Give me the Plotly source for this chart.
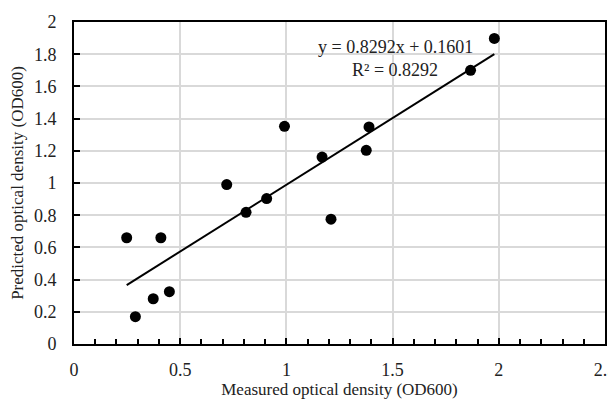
import plotly.graph_objects as go

measured = [0.248, 0.409, 0.289, 0.373, 0.449, 0.719, 0.810, 0.907, 1.210,
            0.991, 1.168, 1.376, 1.389, 1.867, 1.979]
predicted = [0.66, 0.66, 0.17, 0.281, 0.325, 0.99, 0.818, 0.903, 0.775,
             1.352, 1.161, 1.203, 1.348, 1.70, 1.898]
slope = 0.8292
intercept = 0.1601
r2 = 0.8292

x_ticks = [0, 0.5, 1, 1.5, 2, 2.5]
x_tick_labels = ["0", "0.5", "1", "1.5", "2", "2.5"]
y_ticks = [0, 0.2, 0.4, 0.6, 0.8, 1, 1.2, 1.4, 1.6, 1.8, 2]
y_tick_labels = ["0", "0.2", "0.4", "0.6", "0.8", "1", "1.2", "1.4", "1.6", "1.8", "2"]

x_fit = [min(measured), max(measured)]
y_fit = [slope * v + intercept for v in x_fit]

FONT = "Liberation Serif, Times New Roman, serif"

fig = go.Figure()
fig.add_trace(go.Scatter(x=x_fit, y=y_fit, mode="lines",
                         line=dict(color="black", width=2), showlegend=False,
                         hoverinfo="skip"))
fig.add_trace(go.Scatter(x=measured, y=predicted, mode="markers",
                         marker=dict(color="black", size=11), showlegend=False))

fig.add_annotation(x=1.513, y=1.845, xref="x", yref="y", showarrow=False,
                   text=f"y = {slope:.4f}x + {intercept:.4f}",
                   font=dict(family=FONT, size=18, color="#222"))
fig.add_annotation(x=1.513, y=1.70, xref="x", yref="y", showarrow=False,
                   text=f"R² = {r2:.4f}",
                   font=dict(family=FONT, size=18, color="#222"))

# page body has an 8px default margin, so the figure is sized/offset to compensate
fig.update_layout(
    width=608, height=393,
    margin=dict(l=66, r=11, t=14, b=57),
    paper_bgcolor="white", plot_bgcolor="white",
    font=dict(family=FONT, size=18, color="#222"),
    xaxis=dict(range=[0, 2.5], tickvals=x_ticks, ticktext=x_tick_labels,
               showgrid=True, gridcolor="#d9d9d9", gridwidth=1.5,
               showline=True, linecolor="black", linewidth=2, mirror=True,
               ticks="inside", ticklen=6, tickcolor="black", tickwidth=1.5,
               minor=dict(dtick=0.1, ticks="inside", ticklen=5, tickcolor="black",
                          tickwidth=1.5, showgrid=False),
               ticklabelstandoff=8, ticklabeloverflow="allow",
               zeroline=False, automargin=False,
               title=dict(text="Measured optical density (OD600)",
                          font=dict(family=FONT, size=17), standoff=2)),
    yaxis=dict(range=[0, 2], tickvals=y_ticks, ticktext=y_tick_labels,
               showgrid=True, gridcolor="#d9d9d9", gridwidth=1.5,
               showline=True, linecolor="black", linewidth=2, mirror=True,
               ticks="inside", ticklen=6, tickcolor="black", tickwidth=1.5,
               ticklabelstandoff=12, ticklabeloverflow="allow",
               zeroline=False, automargin=False,
               title=dict(text="Predicted optical density (OD600)",
                          font=dict(family=FONT, size=17), standoff=6)),
)

fig.write_html("out.html")
